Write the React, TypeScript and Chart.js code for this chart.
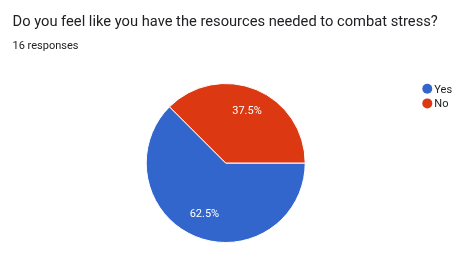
import React, { useEffect, useRef } from "react";
import { Chart, registerables } from "chart.js";

Chart.register(...registerables);

const TITLE = "Do you feel like you have the resources needed to combat stress?";
const SUBTITLE = "16 responses";
const categories = ["Yes", "No"];
const counts = [10, 6];
const colors = ["#3366CC", "#DC3912"];

const FONT = "Roboto, Arial, sans-serif";

const overlayPlugin = {
  id: "overlay",
  afterDatasetsDraw(chart: any) {
    const ctx = chart.ctx;
    const meta = chart.getDatasetMeta(0);
    const data = chart.data.datasets[0].data as number[];
    const total = data.reduce((a, b) => a + b, 0);
    ctx.save();
    // slice labels
    ctx.fillStyle = "#ffffff";
    ctx.font = `11px ${FONT}`;
    ctx.textAlign = "center";
    ctx.textBaseline = "middle";
    meta.data.forEach((arc: any, i: number) => {
      const p = arc.getProps(["x", "y", "startAngle", "endAngle", "outerRadius"], true);
      const mid = (p.startAngle + p.endAngle) / 2;
      const r = p.outerRadius * 0.7;
      const pct = ((data[i] / total) * 100).toFixed(1) + "%";
      ctx.fillText(pct, p.x + Math.cos(mid) * r, p.y + Math.sin(mid) * r);
    });
    // title
    ctx.textAlign = "left";
    ctx.textBaseline = "alphabetic";
    ctx.fillStyle = "#202124";
    ctx.font = `14.7px ${FONT}`;
    ctx.fillText(TITLE, 12.5, 26);
    ctx.font = `11px ${FONT}`;
    ctx.fillStyle = "#202124";
    ctx.fillText(SUBTITLE, 12.5, 49.3);
    // legend
    const labels = chart.data.labels as string[];
    const bg = chart.data.datasets[0].backgroundColor as string[];
    labels.forEach((lab, i) => {
      const cy = 88.8 + i * 14.6;
      ctx.beginPath();
      ctx.arc(427.3, cy, 5, 0, Math.PI * 2);
      ctx.fillStyle = bg[i];
      ctx.fill();
      ctx.fillStyle = "#222222";
      ctx.font = `11px ${FONT}`;
      ctx.textBaseline = "alphabetic";
      ctx.fillText(lab, 434.3, cy + 4);
    });
    ctx.restore();
  },
};

export default function App() {
  const ref = useRef<HTMLCanvasElement>(null);
  useEffect(() => {
    document.body.style.margin = "0";
    const chart = new Chart(ref.current!, {
      type: "pie",
      data: {
        labels: categories,
        datasets: [
          {
            data: counts,
            backgroundColor: colors,
            borderColor: "#ffffff",
            borderWidth: 1,
          },
        ],
      },
      options: {
        responsive: false,
        animation: false,
        rotation: 90,
        layout: { padding: { left: 125.7, right: 149.3, top: 83, bottom: 23 } },
        plugins: {
          legend: { display: false },
          tooltip: { enabled: false },
        },
      },
      plugins: [overlayPlugin],
    });
    return () => chart.destroy();
  }, []);
  return (
    <div style={{ width: 475, height: 266, background: "#fff" }}>
      <canvas ref={ref} width={475} height={266} />
    </div>
  );
}
